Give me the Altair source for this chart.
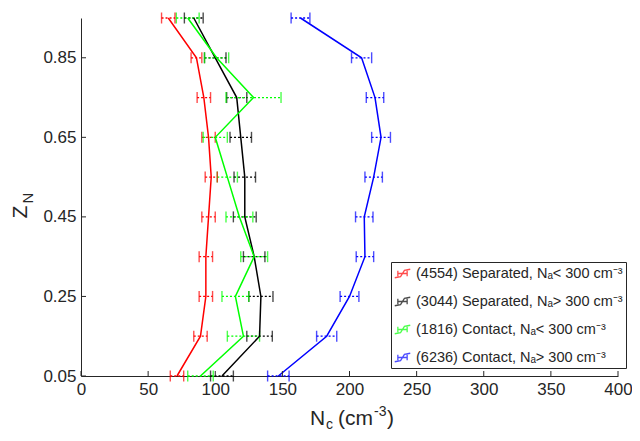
import altair as alt
import pandas as pd

# ---------------- data ----------------
z_levels = [0.05, 0.15, 0.25, 0.35, 0.45, 0.55, 0.65, 0.75, 0.85, 0.95]

series_names = [
    "(4554) Separated, Nₐ< 300 cm⁻³",
    "(3044) Separated, Nₐ> 300 cm⁻³",
    "(1816) Contact, Nₐ< 300 cm⁻³",
    "(6236) Contact, Nₐ> 300 cm⁻³",
]
series_colors = ["#ff0000", "#000000", "#00ff00", "#0000ff"]

red_mean = [71.5, 89, 93, 93, 95, 97, 95, 91.5, 86, 65]
red_err = [5, 5, 5, 5, 5, 4.5, 5, 5, 4, 5]
black_mean = [105, 133, 134, 129, 122, 122, 119, 116, 100, 84]
black_err = [8.5, 9.5, 9, 8, 8.5, 8, 8, 7.5, 8, 7]
green_mean = [89, 121, 115, 129, 118, 109, 100, 128.5, 101, 79.5]
green_err = [9.5, 12, 10, 10, 10, 7.5, 9, 20.5, 9, 8.5]
blue_mean = [147, 183, 200, 211.5, 211, 218, 223.5, 219, 209, 163.5]
blue_err = [8, 7.5, 7, 6.5, 6.5, 6.5, 7, 6.5, 7.5, 7]

x_ticks = [0, 50, 100, 150, 200, 250, 300, 350, 400]
y_ticks = [0.05, 0.25, 0.45, 0.65, 0.85]

# ---------------- table ----------------
rows = []
for name, means, errs in zip(series_names,
                             [red_mean, black_mean, green_mean, blue_mean],
                             [red_err, black_err, green_err, blue_err]):
    for z, m, e in zip(z_levels, means, errs):
        rows.append({"series": name, "z": z, "mean": m, "lo": m - e, "hi": m + e})
df = pd.DataFrame(rows)

W, H = 537, 358
FONT = "Liberation Sans"
AX = "#262626"

x_scale = alt.Scale(domain=[0, 400], nice=False, zero=False)
y_scale = alt.Scale(domain=[0.05, 0.95], nice=False, zero=False)
col_scale = alt.Scale(domain=series_names, range=series_colors)

x_axis = alt.Axis(values=x_ticks, title=None, ticks=False, tickSize=0, grid=False,
                  labelFontSize=17, labelFont=FONT, labelColor=AX, labelPadding=5,
                  labelFlush=False, labelOverlap=False,
                  domainColor=AX, domainWidth=1)
y_axis = alt.Axis(values=y_ticks, format=".2f", title=None, ticks=False, tickSize=0, grid=False,
                  labelFontSize=17, labelFont=FONT, labelColor=AX, labelPadding=5,
                  labelFlush=False, labelOverlap=False,
                  domainColor=AX, domainWidth=1)

# retraced path -> no visible fill area
legend_symbol = ("M-1,0.55 L-0.25,0.4 L0.25,-0.4 L1,-0.55 L0.25,-0.4 L-0.25,0.4 Z "
                 "M-0.6,0 L0.6,0 Z M-0.6,-0.35 L-0.6,0.35 Z M0.6,-0.35 L0.6,0.35 Z")

legend = alt.Legend(orient="none", legendX=310, legendY=244, title=None,
                    strokeColor=AX, fillColor="white", padding=3,
                    labelFontSize=14.5, labelFont=FONT, labelColor=AX, labelLimit=400,
                    labelOffset=5, symbolType=legend_symbol, symbolSize=240,
                    symbolStrokeWidth=1.3, symbolFillColor="transparent", rowPadding=12)

color_enc = alt.Color("series:N", scale=col_scale, legend=legend)

base = alt.Chart(df)

err_lines = base.mark_rule(strokeDash=[2, 2], strokeWidth=1.3).encode(
    x=alt.X("lo:Q", scale=x_scale, axis=x_axis),
    x2="hi:Q",
    y=alt.Y("z:Q", scale=y_scale, axis=y_axis),
    color=color_enc,
)
caps_lo = base.mark_tick(orient="vertical", size=11, thickness=1.4).encode(
    x=alt.X("lo:Q", scale=x_scale),
    y=alt.Y("z:Q", scale=y_scale),
    color=color_enc,
)
caps_hi = base.mark_tick(orient="vertical", size=11, thickness=1.4).encode(
    x=alt.X("hi:Q", scale=x_scale),
    y=alt.Y("z:Q", scale=y_scale),
    color=color_enc,
)
lines = base.mark_line(strokeWidth=1.5).encode(
    x=alt.X("mean:Q", scale=x_scale),
    y=alt.Y("z:Q", scale=y_scale),
    order="z:Q",
    color=color_enc,
)

# inward ticks
yt = alt.Chart(pd.DataFrame({"z": y_ticks})).mark_rule(color=AX, strokeWidth=1).encode(
    y=alt.Y("z:Q", scale=y_scale), x=alt.value(0), x2=alt.value(5))
xt = alt.Chart(pd.DataFrame({"mean": x_ticks})).mark_rule(color=AX, strokeWidth=1).encode(
    x=alt.X("mean:Q", scale=x_scale), y=alt.value(H), y2=alt.value(H - 5))


def label(txt, x, y, size, angle=0, align="left"):
    return alt.Chart(pd.DataFrame({"t": [txt]})).mark_text(
        font=FONT, fontSize=size, color=AX, align=align, baseline="alphabetic",
        angle=angle).encode(text="t:N", x=alt.value(x), y=alt.value(y))


TY = H + 49
TX = 229
titles = [
    label("N", TX, TY, 21),
    label("c", TX + 16, TY + 4, 14),
    label("(cm", TX + 28, TY, 21),
    label("-3", TX + 64, TY - 9, 14),
    label(")", TX + 77, TY, 21),
    label("Z", -54, 194, 21, angle=270, align="center"),
    label("N", -48, 180, 15, angle=270, align="center"),
]

chart = alt.layer(err_lines, caps_lo, caps_hi, lines, yt, xt, *titles).properties(
    width=W, height=H,
    autosize=alt.AutoSizeParams(type="none"),
    padding={"left": 73, "top": 10, "right": 14, "bottom": 57},
    background="white",
).configure_view(stroke=None)

chart.save("out.html", embed_options={"renderer": "svg", "actions": False})
